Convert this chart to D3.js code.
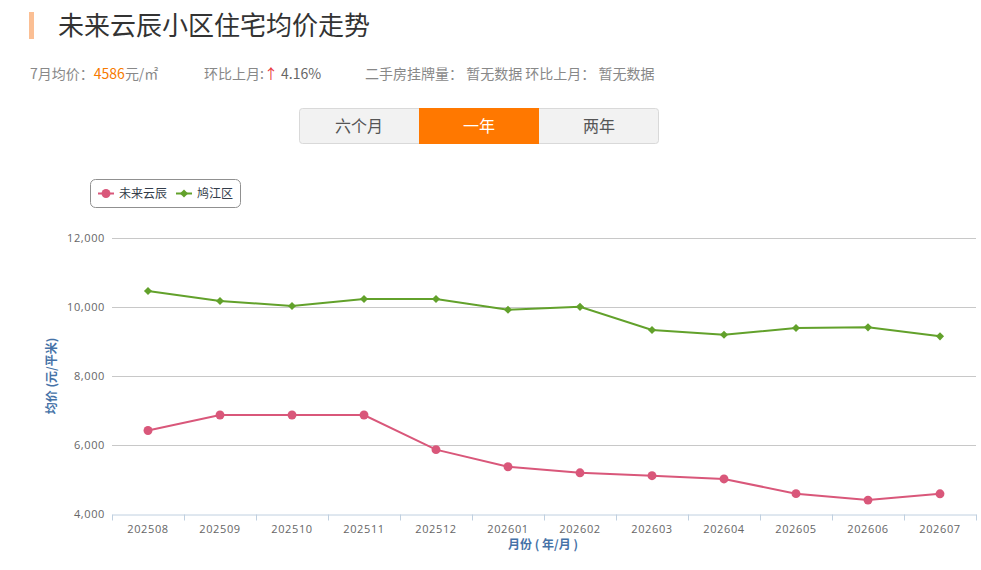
<!DOCTYPE html>
<html>
<head>
<meta charset="utf-8">
<script src="https://cdn.jsdelivr.net/npm/d3@7"></script>
<style>
  body { margin: 0; background: #fff; font-family: "Noto Sans CJK SC", "Noto Sans", sans-serif; }
</style>
</head>
<body>
<svg id="chart" width="981" height="570"></svg>
<script>
const months = ['202508', '202509', '202510', '202511', '202512', '202601',
                '202602', '202603', '202604', '202605', '202606', '202607'];
const communityPrices = [6420, 6870, 6870, 6870, 5865, 5370, 5195, 5110, 5015, 4590, 4403, 4586];
const districtPrices = [10465, 10175, 10030, 10230, 10230, 9920, 10005, 9335, 9195, 9390, 9410, 9150];
const yTicks = [4000, 6000, 8000, 10000, 12000];
const seriesNames = ['未来云辰', '鸠江区'];

const svg = d3.select('#chart');
const font = '"Noto Sans CJK SC", sans-serif';

// header
svg.append('rect').attr('x', 29).attr('y', 12).attr('width', 5).attr('height', 27).attr('fill', '#fbbf94');
svg.append('text').attr('x', 58).attr('y', 35).attr('font-size', 26).attr('fill', '#333')
  .attr('font-family', font).text('未来云辰小区住宅均价走势');

const info = svg.append('text').attr('x', 30).attr('y', 79).attr('font-size', 14).attr('fill', '#888')
  .attr('font-family', font);
info.append('tspan').text('7月均价：');
info.append('tspan').attr('fill', '#f77a00').text('4586');
info.append('tspan').text('元/㎡');

const ring = svg.append('text').attr('x', 204).attr('y', 79).attr('font-size', 14).attr('fill', '#888')
  .attr('font-family', font);
ring.append('tspan').text('环比上月:');
ring.append('tspan').attr('fill', '#e8343a').text('↑');
ring.append('tspan').attr('fill', '#666').text(' 4.16%');

svg.append('text').attr('x', 365).attr('y', 79).attr('font-size', 14).attr('fill', '#888')
  .attr('font-family', font).text('二手房挂牌量： 暂无数据 环比上月： 暂无数据');

// period buttons
const tabs = ['六个月', '一年', '两年'];
const tabG = svg.append('g').attr('transform', 'translate(299,108)');
tabG.append('rect').attr('x', 0.5).attr('y', 0.5).attr('width', 359).attr('height', 35).attr('rx', 3)
  .attr('fill', '#f2f2f2').attr('stroke', '#d9d9d9');
tabG.append('rect').attr('x', 120).attr('y', 0).attr('width', 120).attr('height', 36).attr('fill', '#ff7800');
tabG.selectAll('.tab')
  .data(tabs)
  .enter()
  .append('text')
    .attr('x', (d, i) => i * 120 + 60)
    .attr('y', 24)
    .attr('text-anchor', 'middle')
    .attr('font-size', 16)
    .attr('font-family', font)
    .attr('fill', (d, i) => i === 1 ? '#fff' : '#555')
    .text(d => d);

// chart
const x = d3.scaleBand().domain(months).range([112, 976]);
const y = d3.scaleLinear().domain([4000, 12000]).range([514, 238]);

svg.append('g')
  .selectAll('line')
  .data(yTicks.slice(1))
  .enter()
  .append('line')
    .attr('x1', 112).attr('x2', 976)
    .attr('y1', d => y(d) + 0.5).attr('y2', d => y(d) + 0.5)
    .attr('stroke', '#c8c8c8');

svg.append('g')
  .selectAll('text')
  .data(yTicks)
  .enter()
  .append('text')
    .attr('x', 105).attr('y', d => y(d) + 4)
    .attr('text-anchor', 'end')
    .attr('font-size', 11).attr('letter-spacing', 0.6)
    .attr('font-family', '"Open Sans", sans-serif')
    .attr('fill', '#666')
    .text(d => d3.format(',')(d));

const xAxis = svg.append('g')
  .attr('transform', 'translate(0,514.5)')
  .call(d3.axisBottom(x).tickSize(0).tickPadding(11));
xAxis.select('.domain').attr('stroke', '#c0d0e0');
xAxis.selectAll('text').attr('font-size', 11).attr('fill', '#666').attr('letter-spacing', 0.6)
  .attr('font-family', '"Open Sans", sans-serif');
xAxis.append('g')
  .selectAll('line')
  .data(d3.range(months.length + 1))
  .enter()
  .append('line')
    .attr('x1', i => 112.5 + i * x.step()).attr('x2', i => 112.5 + i * x.step())
    .attr('y1', 0).attr('y2', 6)
    .attr('stroke', '#c0d0e0');

svg.append('text')
  .attr('transform', 'translate(56,376) rotate(-90)')
  .attr('text-anchor', 'middle')
  .attr('font-size', 12).attr('font-weight', 'bold')
  .attr('font-family', font)
  .attr('fill', '#4572a7')
  .text('均价 (元/平米)');

svg.append('text')
  .attr('x', 543).attr('y', 549)
  .attr('text-anchor', 'middle')
  .attr('font-size', 12).attr('font-weight', 'bold')
  .attr('font-family', font)
  .attr('fill', '#4572a7')
  .text('月份 ( 年/月 )');

const cx = m => x(m) + x.bandwidth() / 2;
const line = d3.line().x(d => cx(d.m)).y(d => y(d.v));

const series = [
  { name: seriesNames[0], values: communityPrices, color: '#d9577a', marker: 'circle' },
  { name: seriesNames[1], values: districtPrices, color: '#62a12b', marker: 'diamond' }
];
const markerPath = s => d3.symbol()
  .type(s.marker === 'circle' ? d3.symbolCircle : d3.symbolDiamond2)
  .size(s.marker === 'circle' ? 62 : 42)();

series.forEach(s => {
  const pts = months.map((m, i) => ({ m: m, v: s.values[i] }));
  svg.append('path')
    .datum(pts)
    .attr('fill', 'none')
    .attr('stroke', s.color)
    .attr('stroke-width', 2)
    .attr('d', line);
  svg.append('g')
    .selectAll('path')
    .data(pts)
    .enter()
    .append('path')
      .attr('transform', d => 'translate(' + cx(d.m) + ',' + y(d.v) + ')')
      .attr('d', markerPath(s))
      .attr('fill', s.color);
});

// legend
const legend = svg.append('g').attr('transform', 'translate(90,179)');
legend.append('rect').attr('x', 0.5).attr('y', 0.5).attr('width', 150).attr('height', 28).attr('rx', 5)
  .attr('fill', '#fff').attr('stroke', '#909090');
const items = legend.selectAll('.item')
  .data(series)
  .enter()
  .append('g')
    .attr('transform', (d, i) => 'translate(' + (8 + i * 78) + ',14.5)');
items.append('line').attr('x1', 0).attr('x2', 16).attr('stroke', d => d.color).attr('stroke-width', 2);
items.append('path')
  .attr('transform', 'translate(8,0)')
  .attr('d', d => markerPath(d))
  .attr('fill', d => d.color);
items.append('text').attr('x', 21).attr('y', 4.5)
  .attr('font-size', 12).attr('font-family', font).attr('fill', '#333d4a')
  .text(d => d.name);
</script>
</body>
</html>
